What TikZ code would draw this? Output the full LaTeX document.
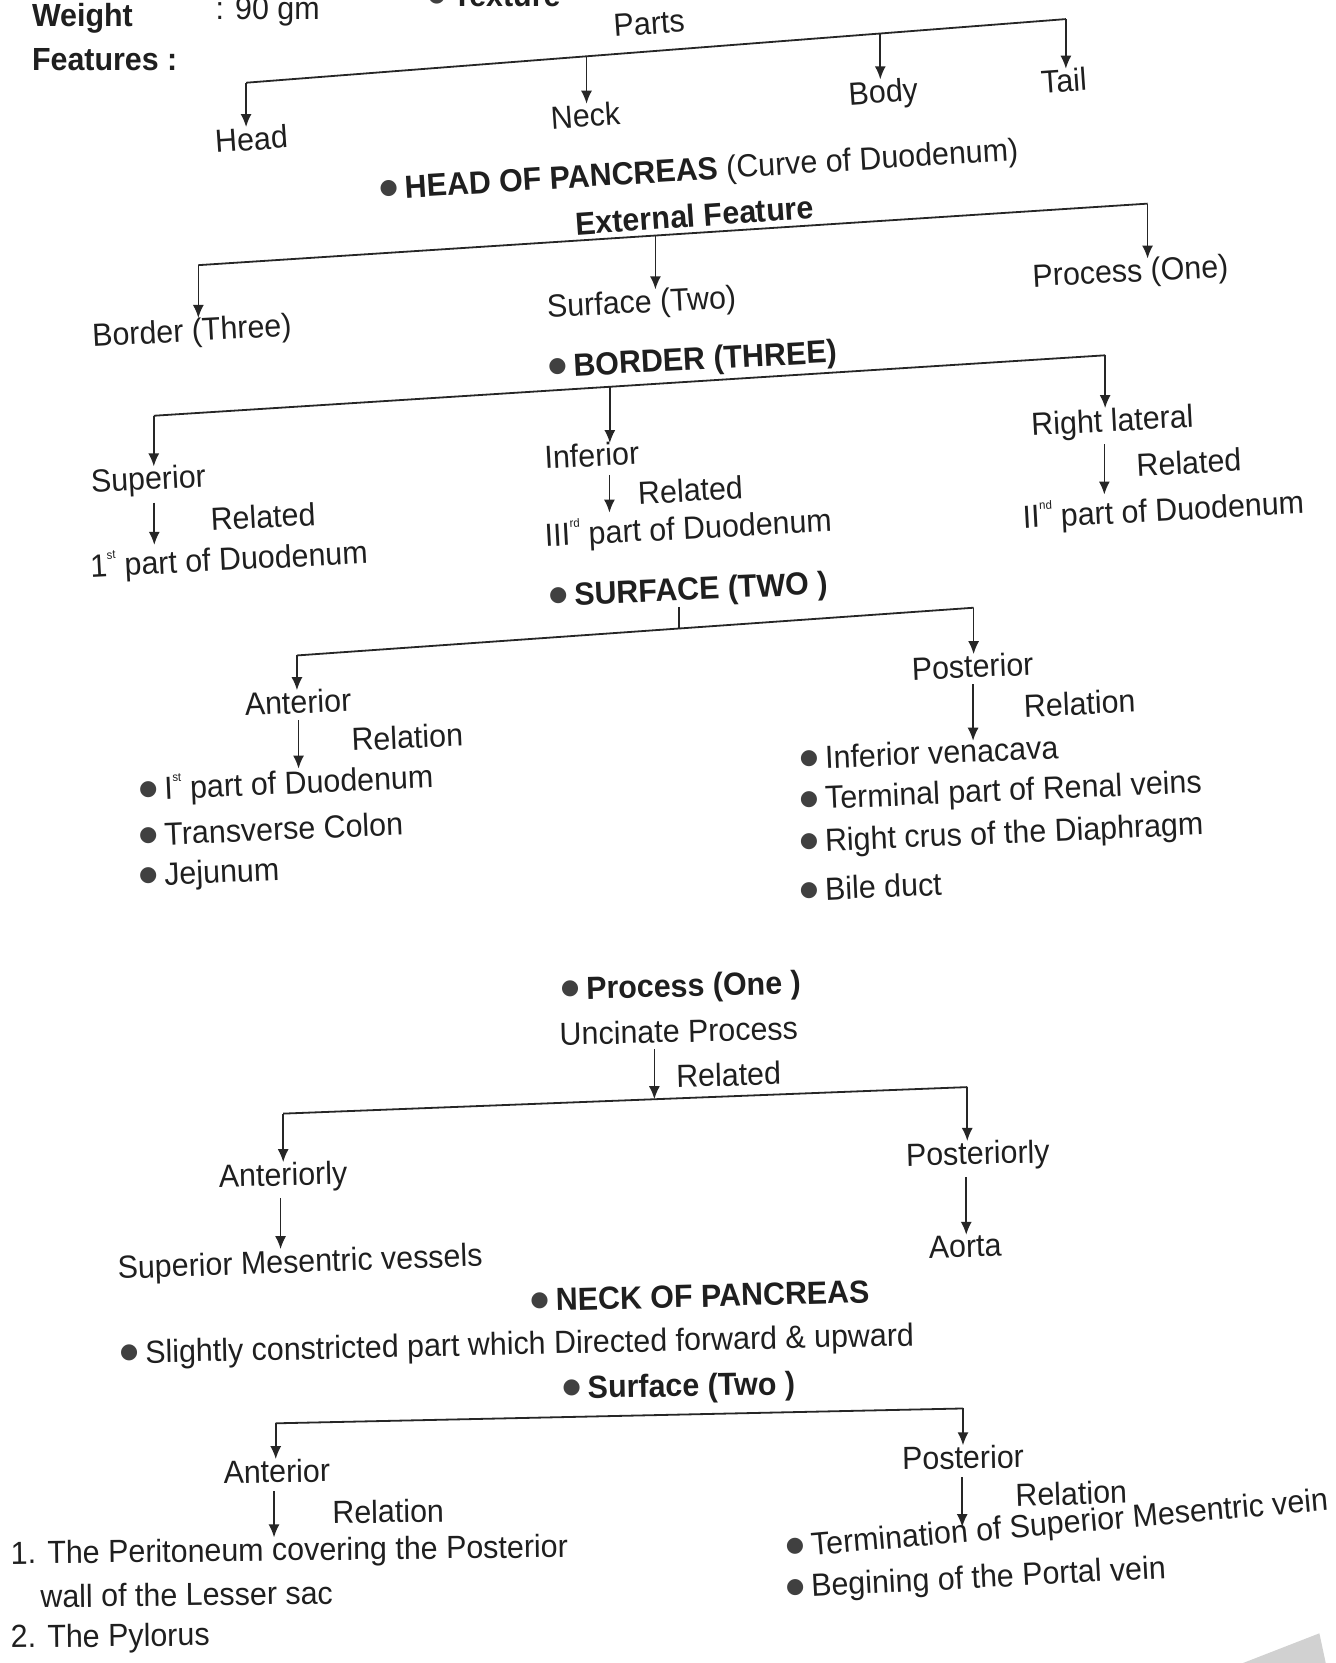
\documentclass[tikz,border=0pt]{standalone}
\usepackage{fontspec}
\setmainfont{Liberation Sans}[FakeStretch=0.95]
\newfontfamily\dejavu{DejaVu Sans}
\usetikzlibrary{arrows.meta,calc}
\newcommand\sps[1]{\raisebox{0.55em}{\fontsize{12}{12}\selectfont #1}}
\newcommand\bul{\raisebox{5pt}{\dejavu\fontsize{21}{21}\selectfont\color{black!75}●}\hspace{7pt}}
\tikzset{
  txt/.style={inner sep=0pt, font=\fontsize{32}{36}\selectfont, text=black!88},
  bld/.style={inner sep=0pt, font=\fontsize{32}{36}\selectfont\bfseries, text=black!88},
  ln/.style={line width=1.8pt, draw=black!85},
  arr/.style={line width=1.6pt, draw=black!85, -{Latex[length=13pt,width=11pt]}},
}
\begin{document}
\begin{tikzpicture}[x=1.0604pt,y=-1.0604pt]
\useasboundingbox (0,0) rectangle (1259,1568);
\clip (0,0) rectangle (1259,1568);
\fill[white] (0,0) rectangle (1259,1568);
% header
\node[bld, anchor=west] (weight) at (30,17) {Weight};
\node[txt, anchor=west] (wval) at (203,11) {: 90 gm};
\node[bld, anchor=west] (feat) at (30,56) {Features :};
\node[bld, anchor=base west] (tex) at (403,6) {\bul Texture};
% parts
\node[txt, rotate=4] (parts) at (612,22) {Parts};
\node[txt, rotate=4] (head) at (237,131) {Head};
\node[txt, rotate=4] (neck) at (552,109) {Neck};
\node[txt, rotate=4] (body) at (833,89) {Body};
\node[txt, rotate=4] (tail) at (1003,76) {Tail};
\coordinate (p0) at (232,78);
\coordinate (p1) at (1005,18);
\coordinate (pn) at (553,53);
\coordinate (pb) at (830,32);
\draw[ln] (p0) -- (p1);
\draw[arr] (p0) -- (p0 |- head.north);
\draw[arr] (pn) -- (pn |- neck.north);
\draw[arr] (pb) -- (pb |- body.north);
\draw[arr] (p1) -- (p1 |- tail.north);
% head of pancreas
\node[bld, rotate=3.5] (headp) at (659,162) {\bul HEAD OF PANCREAS \mdseries(Curve of Duodenum)};
\node[bld, rotate=4] (ext) at (655,203) {External Feature};
\node[txt, rotate=3] (border) at (181,314) {Border (Three)};
\node[txt, rotate=3] (surf) at (605,287) {Surface (Two)};
\node[txt, rotate=3] (proc) at (1066,258) {Process (One)};
\coordinate (e0) at (187,250);
\coordinate (e1) at (1082,192);
\coordinate (es) at (618,222);
\draw[ln] (e0) -- (e1);
\draw[arr] (e0) -- (e0 |- border.north);
\draw[arr] (es) -- (es |- surf.north);
\draw[arr] (e1) -- (e1 |- proc.north);
% border three
\node[bld, rotate=3] (bth) at (653,341) {\bul BORDER (THREE)};
\coordinate (b0) at (145,392);
\coordinate (b1) at (1042,335);
\coordinate (bi) at (575,365);
\node[txt, rotate=3] (sup) at (140,454) {Superior};
\node[txt, rotate=3] (rel1) at (248,487) {Related};
\node[txt, rotate=3] (d1) at (216,529) {1\sps{st} part of Duodenum};
\node[txt, rotate=3] (inf) at (558,429) {Inferior};
\node[txt, rotate=3] (rel2) at (651,462) {Related};
\node[txt, rotate=3] (d3) at (649,499) {III\sps{rd} part of Duodenum};
\node[txt, rotate=3] (rl) at (1049,399) {Right lateral};
\node[txt, rotate=3] (rel3) at (1121,436) {Related};
\node[txt, rotate=3] (d2) at (1097,482) {II\sps{nd} part of Duodenum};
\draw[ln] (b0) -- (b1);
\draw[arr] (b0) -- (b0 |- sup.north);
\draw[arr] (bi) -- (bi |- inf.north);
\draw[arr] (b1) -- (b1 |- rl.north);
\draw[arr] ([xshift=5pt,yshift=-6pt]sup.south) -- ([xshift=5pt]sup.south |- d1.north);
\draw[arr] ([xshift=17pt,yshift=-8pt]inf.south) -- ([xshift=17pt]inf.south |- d3.north);
\draw[arr] ([xshift=-9pt,yshift=-6pt]rl.south) -- ([xshift=-9pt]rl.south |- d2.north);
% surface two
\node[bld, rotate=2.5] (sth) at (649,558) {\bul SURFACE (TWO )};
\coordinate (s0) at (280,618);
\coordinate (s1) at (918,573);
\coordinate (st) at (640,592.6);
\draw[ln] (s0) -- (s1);
\draw[ln] (st |- sth.south) -- (st);
\node[txt, rotate=2.5] (ant) at (281,662) {Anterior};
\node[txt, rotate=2.5] (relA) at (384,695) {Relation};
\node[txt, rotate=2.5, anchor=west] (a1) at (131,746) {\bul I\sps{st} part of Duodenum};
\node[txt, rotate=2.5, anchor=west] (a2) at (131,787) {\bul Transverse Colon};
\node[txt, rotate=2.5, anchor=west] (a3) at (131,828) {\bul Jejunum};
\draw[arr] (s0) -- (s0 |- ant.north);
\draw[arr] ([yshift=-6pt]ant.south) -- (ant.south |- a1.north);
\node[txt, rotate=2.5] (post) at (917,628) {Posterior};
\node[txt, rotate=2.5] (relP) at (1018,663) {Relation};
\node[txt, rotate=2.5, anchor=west] (q1) at (754,715) {\bul Inferior venacava};
\node[txt, rotate=2.5, anchor=west] (q2) at (754,756) {\bul Terminal part of Renal veins};
\node[txt, rotate=2.5, anchor=west] (q3) at (754,796) {\bul Right crus of the Diaphragm};
\node[txt, rotate=2.5, anchor=west] (q4) at (754,839) {\bul Bile duct};
\draw[arr] (s1) -- (s1 |- post.north);
\draw[arr] ([yshift=-6pt]post.south) -- (post.south |- q1.north);
% process one
\node[bld, rotate=1.5] (pth) at (642,932) {\bul Process (One )};
\node[txt, rotate=1.5] (unc) at (640,972) {Uncinate Process};
\node[txt, rotate=1.5] (relU) at (687,1013) {Related};
\coordinate (u0) at (267,1050);
\coordinate (u1) at (912,1025);
\coordinate (ux) at (617,1036.4);
\draw[ln] (u0) -- (u1);
\draw[arr] (ux |- unc.south) ++(0,6) -- (ux);
\node[txt, rotate=1.5] (antly) at (267,1110) {Anteriorly};
\node[txt, rotate=2] (smv) at (283,1192) {Superior Mesentric vessels};
\node[txt, rotate=1.5] (postly) at (922,1090) {Posteriorly};
\node[txt, rotate=1.5] (aorta) at (910,1175) {Aorta};
\draw[arr] (u0) -- (u0 |- antly.north);
\draw[arr] (u1) -- (u1 |- postly.north);
\draw[arr] ([xshift=-3pt,yshift=-6pt]antly.south) -- ([xshift=-3pt]antly.south |- smv.north);
\draw[arr] ([xshift=-12pt,yshift=-6pt]postly.south) -- ([xshift=-12pt]postly.south |- aorta.north);
% neck
\node[bld, rotate=1.5] (nth) at (660,1222) {\bul NECK OF PANCREAS};
\node[txt, rotate=1.3, anchor=west] (sl) at (113,1278) {\bul Slightly constricted part which Directed forward \& upward};
\node[bld, rotate=1] (sfth) at (640,1309) {\bul Surface (Two )};
\coordinate (n0) at (260,1342);
\coordinate (n1) at (908,1328);
\draw[ln] (n0) -- (n1);
\node[txt, rotate=1] (ant2) at (261,1387) {Anterior};
\node[txt, rotate=1] (relA2) at (366,1425) {Relation};
\node[txt, rotate=0.7, anchor=west] (l1) at (10,1467) {1. The Peritoneum covering the Posterior};
\node[txt, rotate=0.7, anchor=west] (l1b) at (38,1505) {wall of the Lesser sac};
\node[txt, rotate=0.7, anchor=west] (l2) at (10,1546) {2. The Pylorus};
\node[txt, rotate=1] (post2) at (908,1374) {Posterior};
\node[txt, rotate=2] (relP2) at (1010,1408) {Relation};
\node[txt, rotate=5, anchor=west] (t1) at (741,1461) {\bul Termination of Superior Mesentric vein};
\node[txt, rotate=3, anchor=west] (t2) at (741,1499) {\bul Begining of the Portal vein};
\draw[arr] (n0) -- (n0 |- ant2.north);
\draw[arr] (n1) -- (n1 |- post2.north);
\draw[arr] ([xshift=-3pt,yshift=-8pt]ant2.south) -- ([xshift=-3pt]ant2.south |- l1.north);
\draw[arr] ([xshift=-1pt,yshift=-8pt]post2.south) -- ++(0,47);
% faint page shading at the corner
\fill[black!18] (1172,1568) -- (1244,1540) -- (1250,1568) -- cycle;
\end{tikzpicture}
\end{document}
